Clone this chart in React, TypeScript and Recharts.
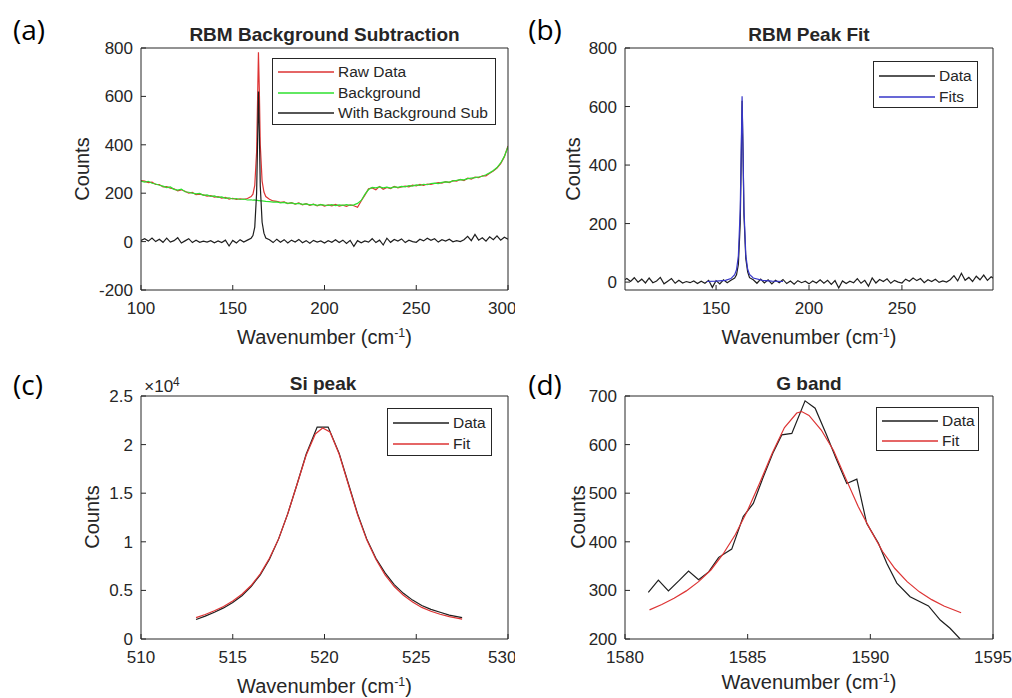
import React from "react";
import { LineChart, Line, XAxis, YAxis, Legend } from "recharts";

// (a)/(b) RBM region, Raman shift in cm-1
const rbmShift = [
  100, 102, 104, 106, 108, 110, 112, 114, 116, 118, 120, 122, 124, 126, 128, 130, 132, 134, 136, 138,
  140, 142, 144, 146, 148, 150, 152, 154, 156, 158, 160, 161, 162, 163, 163.5, 164, 164.5, 165, 166, 167,
  168, 170, 172, 174, 176, 178, 180, 182, 184, 186, 188, 190, 192, 194, 196, 198, 200, 202, 204, 206,
  208, 210, 212, 214, 216, 218, 220, 222, 224, 226, 228, 230, 232, 234, 236, 238, 240, 242, 244, 246,
  248, 250, 252, 254, 256, 258, 260, 262, 264, 266, 268, 270, 272, 274, 276, 278, 280, 282, 284, 286,
  288, 290, 292, 294, 296, 298, 300,
];
const rawCounts = [
  252, 250, 244, 246, 236, 236, 226, 227, 221, 218, 210, 214, 208, 200, 203, 194, 196, 193, 188, 190,
  184, 186, 180, 183, 176, 179, 174, 177, 175, 178, 186, 196, 232, 370, 575, 782, 620, 400, 250, 205,
  186, 175, 168, 166, 162, 164, 157, 161, 155, 160, 152, 157, 150, 155, 148, 154, 147, 152, 148, 154,
  147, 151, 146, 152, 148, 142, 168, 192, 218, 222, 214, 228, 216, 224, 219, 228, 222, 226, 229, 226,
  233, 230, 236, 232, 238, 236, 240, 244, 242, 248, 244, 252, 250, 257, 252, 262, 258, 266, 264, 272,
  272, 282, 292, 304, 322, 350, 395,
];
const bgCounts = [
  250, 246, 249, 241, 238, 233, 229, 223, 226, 216, 213, 217, 206, 204, 200, 197, 199, 191, 193, 187,
  189, 183, 185, 179, 181, 176, 178, 174, 176, 172, 173, 171, 172, 170, 170, 169, 169, 168, 168, 167,
  166, 165, 163, 164, 160, 162, 158, 160, 156, 158, 154, 156, 152, 154, 150, 153, 151, 150, 153, 149,
  152, 150, 153, 150, 152, 158, 170, 195, 215, 224, 222, 226, 222, 225, 221, 226, 224, 228, 226, 231,
  229, 234, 232, 237, 235, 240, 242, 240, 245, 247, 246, 251, 253, 256, 255, 260, 262, 264, 267, 270,
  276, 284, 294, 306, 325, 352, 392,
];
const subCounts = [
  5, 12, 2, 15, 0, 10, -3, 14, -2, 4, 16, -6, 3, 12, -4, 6, -3, 2, -2, 4,
  -5, 3, -4, 6, -18, 5, -6, 8, -2, 6, 14, 25, 60, 200, 400, 620, 450, 230, 80, 35,
  15, 8, -4, 10, -3, 8, -6, 6, -2, 9, -5, 4, -7, 5, -2, 3, -6, 4, -3, 8,
  -4, 6, -8, 5, -20, 4, -5, 3, -2, 12, -4, 6, -14, 14, -3, 9, 2, 11, -4, 6,
  0, -3, 10, 3, 14, 5, 12, -2, 8, 2, 10, -1, 4, 0, 8, 22, 4, 30, 6, 16,
  2, 20, 8, 24, 6, 18, 10,
];
const fitShift = [145, 150, 155, 158, 160, 161, 162, 163, 163.5, 164, 164.5, 165, 166, 167, 168, 170, 175, 180, 186];
const fitCounts = [2, 3, 6, 12, 25, 42, 90, 250, 440, 635, 450, 250, 92, 44, 26, 14, 6, 3, 2];

// (c) Si peak
const siShift = [
  513, 513.5, 514, 514.5, 515, 515.5, 516, 516.5, 517, 517.5, 518, 518.5, 519, 519.6, 520.2,
  520.8, 521.3, 521.8, 522.3, 522.8, 523.3, 523.8, 524.3, 524.8, 525.3, 525.8, 526.3, 526.8, 527.5,
];
const siCounts = [
  2000, 2350, 2750, 3200, 3750, 4450, 5400, 6600, 8200, 10300, 12900, 15900, 19000, 21800, 21800,
  19100, 16000, 12900, 10300, 8300, 6800, 5600, 4700, 4000, 3450, 3050, 2750, 2450, 2200,
];
const siFitShift = [
  513, 513.5, 514, 514.5, 515, 515.5, 516, 516.5, 517, 517.5, 518, 518.5, 519, 519.5, 519.9,
  520.3, 520.8, 521.3, 521.8, 522.3, 522.8, 523.3, 523.8, 524.3, 524.8, 525.3, 525.8, 526.3, 526.8, 527.5,
];
const siFitCounts = [
  2200, 2520, 2900, 3350, 3900, 4600, 5500, 6700, 8300, 10300, 12900, 15900, 18900, 21100, 21700,
  21300, 19000, 15900, 12800, 10200, 8200, 6600, 5400, 4500, 3800, 3250, 2850, 2550, 2300, 2050,
];

// (d) G band
const gShift = [
  1580.95, 1581.36, 1581.77, 1582.18, 1582.59, 1583.0, 1583.41, 1583.82, 1584.35, 1584.82,
  1585.23, 1585.64, 1586.05, 1586.39, 1586.8, 1587.34, 1587.75, 1588.2, 1588.6, 1589.04,
  1589.45, 1589.85, 1590.33, 1590.67, 1591.08, 1591.62, 1592.37, 1592.85, 1593.25, 1593.66,
];
const gCounts = [
  296, 321, 299, 319, 340, 322, 338, 368, 385, 452,
  479, 534, 585, 620, 623, 690, 675, 622, 572, 520,
  529, 438, 397, 356, 315, 287, 268, 239, 222, 200,
];
const gFitShift = [
  1581, 1581.5, 1582, 1582.5, 1583, 1583.5, 1584, 1584.5, 1585, 1585.5, 1586, 1586.5, 1587, 1587.2,
  1587.5, 1588, 1588.5, 1589, 1589.5, 1590, 1590.5, 1591, 1591.5, 1592, 1592.5, 1593, 1593.7,
];
const gFitCounts = [
  260, 271, 284, 299, 318, 342, 375, 415, 465, 522, 582, 635, 665, 668,
  660, 630, 588, 530, 473, 425, 380, 345, 318, 297, 281, 268, 254,
];

const toPts = (xs: number[], ys: number[]) => xs.map((x, i) => ({ x, y: ys[i] }));

const AX = "#262626";
const FONT = "'Liberation Sans', Arial, sans-serif";
const RED = "#dd3333";
const GREEN = "#2ee02e";
const BLUE = "#3636c8";
const BLACK = "#1e1e1e";

type Series = { name: string; color: string; data: { x: number; y: number }[] };

// matlab style boxed legend, entries in plotting order
const boxLegend = (series: Series[], w: number, h: number, rowH: number) => () => (
  <div
    style={{
      width: w,
      height: h,
      boxSizing: "border-box",
      border: `1px solid ${AX}`,
      background: "#fff",
      padding: "3px 0 0 5px",
      fontFamily: FONT,
      fontSize: 15.5,
      color: AX,
    }}
  >
    {series.map((s) => (
      <div key={s.name} style={{ display: "flex", alignItems: "center", height: rowH }}>
        <svg width={56} height={4} style={{ flex: "none" }}>
          <line x1={0} y1={2} x2={56} y2={2} stroke={s.color} strokeWidth={1.3} />
        </svg>
        <span style={{ marginLeft: 4, whiteSpace: "nowrap" }}>{s.name}</span>
      </div>
    ))}
  </div>
);

interface PanelProps {
  left: number;
  top: number;
  width: number;
  plotLeft: number;
  plotRight: number;
  plotTop: number;
  plotBottom: number;
  xDomain: [number, number];
  xTicks: number[];
  yDomain: [number, number];
  yTicks: number[];
  yFmt?: (v: number) => string;
  series: Series[];
  legendBox: { left: number; top: number; w: number; h: number; rowH: number };
}

function Panel(p: PanelProps) {
  const H = 349;
  const tickStyle = { fill: AX, fontSize: 17, fontFamily: FONT };
  // invisible helper so the top / right box axes get drawn
  const corner = [
    { x: p.xDomain[0], y: p.yDomain[0] },
    { x: p.xDomain[1], y: p.yDomain[1] },
  ];
  return (
    <div style={{ position: "absolute", left: p.left, top: p.top }}>
      <LineChart
        width={p.width}
        height={H}
        margin={{
          top: p.plotTop - 1,
          left: p.plotLeft - 60,
          right: p.width - p.plotRight - 1,
          bottom: H - p.plotBottom - 30,
        }}
      >
        <XAxis
          dataKey="x"
          type="number"
          domain={p.xDomain}
          ticks={p.xTicks}
          allowDataOverflow
          height={30}
          tickSize={-5}
          tickMargin={17}
          tick={tickStyle}
          stroke={AX}
        />
        <XAxis
          xAxisId="top"
          dataKey="x"
          orientation="top"
          type="number"
          domain={p.xDomain}
          ticks={p.xTicks}
          allowDataOverflow
          height={1}
          tickSize={-5}
          tick={false}
          stroke={AX}
        />
        <YAxis
          type="number"
          domain={p.yDomain}
          ticks={p.yTicks}
          allowDataOverflow
          width={60}
          tickSize={-5}
          tickMargin={13}
          tick={tickStyle}
          tickFormatter={p.yFmt}
          stroke={AX}
        />
        <YAxis
          yAxisId="right"
          orientation="right"
          type="number"
          domain={p.yDomain}
          ticks={p.yTicks}
          allowDataOverflow
          width={1}
          tickSize={-5}
          tick={false}
          stroke={AX}
        />
        <Line
          xAxisId="top"
          yAxisId="right"
          data={corner}
          dataKey="y"
          stroke="none"
          dot={false}
          activeDot={false}
          legendType="none"
          isAnimationActive={false}
        />
        {p.series.map((s) => (
          <Line
            key={s.name}
            data={s.data}
            dataKey="y"
            name={s.name}
            type="linear"
            stroke={s.color}
            strokeWidth={1.2}
            dot={false}
            activeDot={false}
            isAnimationActive={false}
          />
        ))}
        <Legend
          layout="vertical"
          align="center"
          verticalAlign="middle"
          wrapperStyle={{ left: p.legendBox.left, top: p.legendBox.top, width: p.legendBox.w }}
          content={boxLegend(p.series, p.legendBox.w, p.legendBox.h, p.legendBox.rowH)}
        />
      </LineChart>
    </div>
  );
}

function Txt({
  x,
  y,
  size,
  bold,
  rotate,
  font,
  color,
  children,
}: {
  x: number;
  y: number;
  size: number;
  bold?: boolean;
  rotate?: boolean;
  font?: string;
  color?: string;
  children: React.ReactNode;
}) {
  return (
    <div
      style={{
        position: "absolute",
        left: x,
        top: y,
        transform: `translate(-50%, -50%)${rotate ? " rotate(-90deg)" : ""}`,
        fontSize: size,
        fontWeight: bold ? 700 : 400,
        fontFamily: font || FONT,
        color: color || AX,
        whiteSpace: "nowrap",
        lineHeight: 1,
      }}
    >
      {children}
    </div>
  );
}

const XLabel = () => (
  <span>
    Wavenumber (cm<sup style={{ fontSize: "0.62em", verticalAlign: "0.55em" }}>-1</sup>)
  </span>
);

export default function App() {
  const tagFont = "'Open Sans', 'Noto Sans', sans-serif";
  return (
    <div
      style={{
        position: "absolute",
        left: 0,
        top: 0,
        width: 1012,
        height: 698,
        background: "#fff",
        overflow: "hidden",
      }}
    >
      <Panel
        left={0}
        top={0}
        width={515}
        plotLeft={141}
        plotRight={508}
        plotTop={48}
        plotBottom={290}
        xDomain={[100, 300]}
        xTicks={[100, 150, 200, 250, 300]}
        yDomain={[-200, 800]}
        yTicks={[-200, 0, 200, 400, 600, 800]}
        series={[
          { name: "Raw Data", color: RED, data: toPts(rbmShift, rawCounts) },
          { name: "Background", color: GREEN, data: toPts(rbmShift, bgCounts) },
          { name: "With Background Sub", color: BLACK, data: toPts(rbmShift, subCounts) },
        ]}
        legendBox={{ left: 272, top: 58, w: 224, h: 67, rowH: 20.5 }}
      />
      <Panel
        left={506}
        top={0}
        width={506}
        plotLeft={119}
        plotRight={487}
        plotTop={48}
        plotBottom={290}
        xDomain={[101, 299]}
        xTicks={[150, 200, 250]}
        yDomain={[-27, 800]}
        yTicks={[0, 200, 400, 600, 800]}
        series={[
          { name: "Data", color: BLACK, data: toPts(rbmShift, subCounts) },
          { name: "Fits", color: BLUE, data: toPts(fitShift, fitCounts) },
        ]}
        legendBox={{ left: 367, top: 61, w: 105, h: 47, rowH: 21 }}
      />
      <Panel
        left={0}
        top={349}
        width={515}
        plotLeft={141}
        plotRight={508}
        plotTop={47}
        plotBottom={290}
        xDomain={[510, 530]}
        xTicks={[510, 515, 520, 525, 530]}
        yDomain={[0, 25000]}
        yTicks={[0, 5000, 10000, 15000, 20000, 25000]}
        yFmt={(v: number) => String(v / 10000)}
        series={[
          { name: "Data", color: BLACK, data: toPts(siShift, siCounts) },
          { name: "Fit", color: RED, data: toPts(siFitShift, siFitCounts) },
        ]}
        legendBox={{ left: 387, top: 59, w: 105, h: 48, rowH: 21.5 }}
      />
      <Panel
        left={506}
        top={349}
        width={506}
        plotLeft={119}
        plotRight={487}
        plotTop={47}
        plotBottom={290}
        xDomain={[1580, 1595]}
        xTicks={[1580, 1585, 1590, 1595]}
        yDomain={[200, 700]}
        yTicks={[200, 300, 400, 500, 600, 700]}
        series={[
          { name: "Data", color: BLACK, data: toPts(gShift, gCounts) },
          { name: "Fit", color: RED, data: toPts(gFitShift, gFitCounts) },
        ]}
        legendBox={{ left: 370, top: 58, w: 103, h: 44, rowH: 20 }}
      />

      {/* panel tags */}
      <Txt x={29} y={29} size={28} font={tagFont} color="#000">(a)</Txt>
      <Txt x={545} y={29} size={28} font={tagFont} color="#000">(b)</Txt>
      <Txt x={28} y={384} size={28} font={tagFont} color="#000">(c)</Txt>
      <Txt x={545} y={384} size={28} font={tagFont} color="#000">(d)</Txt>

      {/* titles */}
      <Txt x={324.5} y={34} size={19} bold>RBM Background Subtraction</Txt>
      <Txt x={809} y={34} size={19} bold>RBM Peak Fit</Txt>
      <Txt x={323} y={383} size={19} bold>Si peak</Txt>
      <Txt x={809} y={383} size={19} bold>G band</Txt>

      {/* axis labels */}
      <Txt x={82} y={169} size={20} rotate>Counts</Txt>
      <Txt x={573} y={169} size={20} rotate>Counts</Txt>
      <Txt x={92} y={517} size={20} rotate>Counts</Txt>
      <Txt x={578} y={517} size={20} rotate>Counts</Txt>
      <Txt x={324.5} y={337} size={20}><XLabel /></Txt>
      <Txt x={809} y={337} size={20}><XLabel /></Txt>
      <Txt x={324.5} y={686} size={20}><XLabel /></Txt>
      <Txt x={809} y={682} size={20}><XLabel /></Txt>

      {/* exponent of (c) */}
      <Txt x={162} y={386} size={17}>
        <span>
          ×10<sup style={{ fontSize: "0.7em", verticalAlign: "0.5em" }}>4</sup>
        </span>
      </Txt>
    </div>
  );
}
